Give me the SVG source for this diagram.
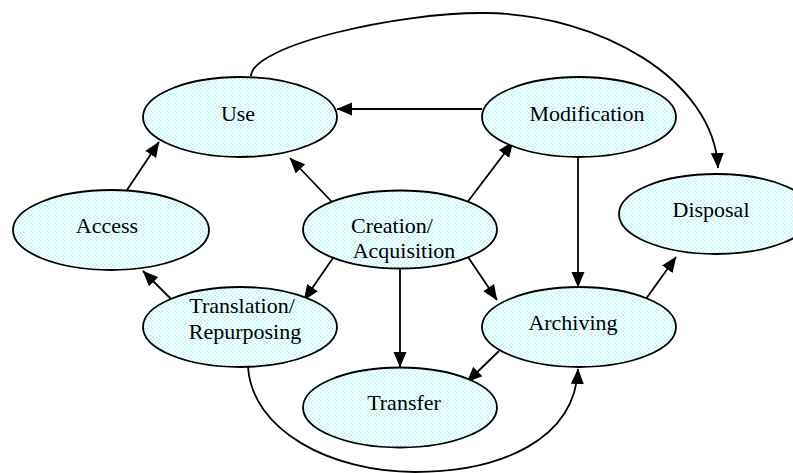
<svg xmlns="http://www.w3.org/2000/svg" width="793" height="473" viewBox="0 0 793 473">
<defs>
<pattern id="chk" width="4" height="4" patternUnits="userSpaceOnUse">
<rect width="4" height="4" fill="#ffffff"/>
<rect width="2" height="2" fill="#c4fafa"/>
<rect x="2" y="2" width="2" height="2" fill="#c4fafa"/>
</pattern>
<marker id="ah" markerUnits="userSpaceOnUse" markerWidth="16" markerHeight="14" viewBox="0 0 16 14" refX="15" refY="7" orient="auto">
<path d="M0,0.5 L15.5,7 L0,13.5 z" fill="#000"/>
</marker>
<style>
.n ellipse{fill:url(#chk);stroke:#000;stroke-width:1.8}
.n text{font-family:"Liberation Serif","Times New Roman",serif;font-size:22px;fill:#000;text-anchor:middle}
.c path,.c line{fill:none;stroke:#000;stroke-width:1.8;marker-end:url(#ah)}
</style>
</defs>
<rect width="793" height="473" fill="#fff"/>
<g id="connectors" class="c">
<path d="M251,76 C252,45 400,12 485,13 C600,14 714,80 718,168"/>
<line x1="482" y1="109" x2="337" y2="109"/>
<line x1="333" y1="203" x2="290" y2="158"/>
<line x1="127" y1="190" x2="159" y2="142"/>
<line x1="175" y1="303" x2="143" y2="271"/>
<line x1="333" y1="258" x2="304" y2="300"/>
<line x1="466" y1="204" x2="513" y2="142"/>
<line x1="400" y1="269" x2="400" y2="367"/>
<line x1="468" y1="257" x2="497" y2="300"/>
<line x1="578" y1="157" x2="578" y2="287"/>
<line x1="643" y1="303" x2="676" y2="257"/>
<line x1="499" y1="351" x2="467" y2="382"/>
<path d="M248,367 C252,430 330,472 415,472 C500,472 575,440 578,369"/>
</g>
<g id="use" class="n"><ellipse cx="240" cy="117" rx="97" ry="40"/><text x="238" y="121">Use</text></g>
<g id="modification" class="n"><ellipse cx="579" cy="117" rx="97" ry="40"/><text x="587" y="121">Modification</text></g>
<g id="access" class="n"><ellipse cx="111" cy="230" rx="98" ry="40"/><text x="107" y="233">Access</text></g>
<g id="creation" class="n"><ellipse cx="400" cy="229.5" rx="97" ry="39"/><text x="392" y="233">Creation/</text><text x="404" y="258">Acquisition</text></g>
<g id="disposal" class="n"><ellipse cx="716" cy="214" rx="97" ry="40"/><text x="711" y="217">Disposal</text></g>
<g id="translation" class="n"><ellipse cx="240" cy="327" rx="97" ry="40"/><text x="242" y="313">Translation/</text><text x="245" y="339">Repurposing</text></g>
<g id="archiving" class="n"><ellipse cx="579" cy="327" rx="97" ry="40"/><text x="573" y="330">Archiving</text></g>
<g id="transfer" class="n"><ellipse cx="400" cy="407.5" rx="97" ry="40"/><text x="404" y="410">Transfer</text></g>
</svg>
